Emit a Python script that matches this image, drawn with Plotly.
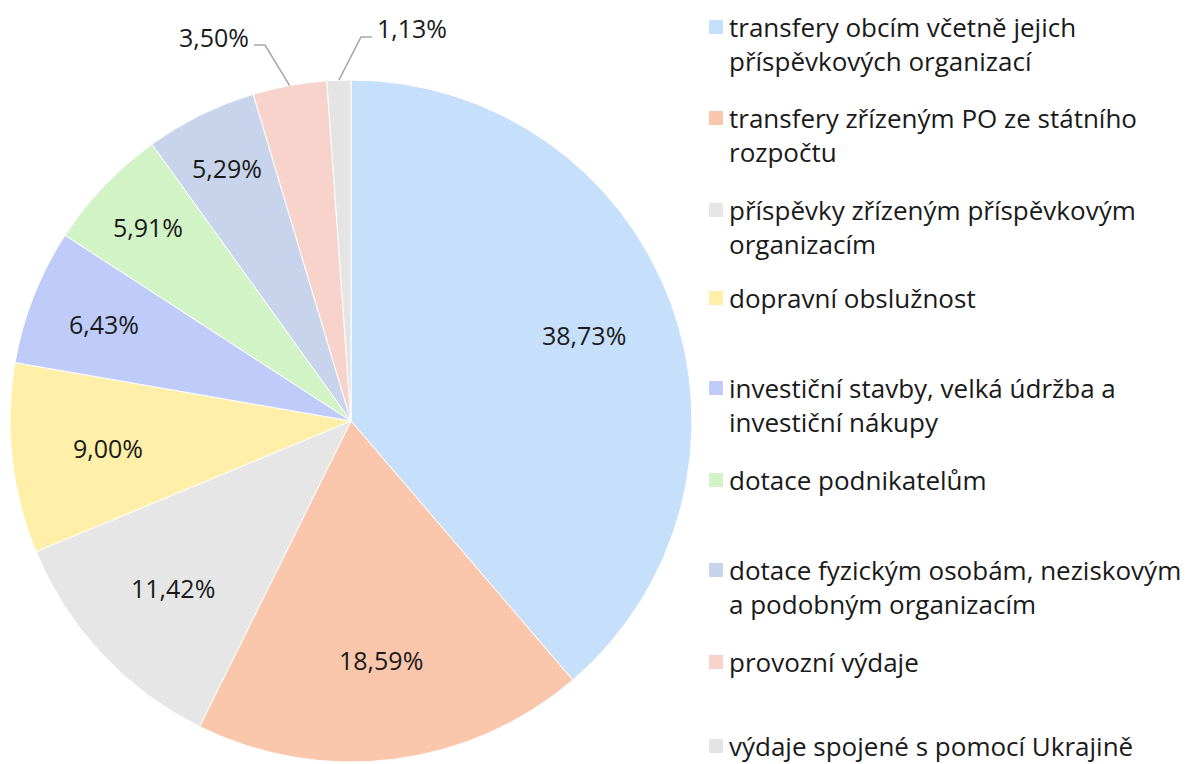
import math
import plotly.graph_objects as go

labels = [
    "transfery obcím včetně jejich<br>příspěvkových organizací",
    "transfery zřízeným PO ze státního<br>rozpočtu",
    "příspěvky zřízeným příspěvkovým<br>organizacím",
    "dopravní obslužnost",
    "investiční stavby, velká údržba a<br>investiční nákupy",
    "dotace podnikatelům",
    "dotace fyzickým osobám, neziskovým<br>a podobným organizacím",
    "provozní výdaje",
    "výdaje spojené s pomocí Ukrajině",
]
values = [38.73, 18.59, 11.42, 9.00, 6.43, 5.91, 5.29, 3.50, 1.13]
colors = ["#C6E0FB", "#FBC7AC", "#E6E6E6", "#FFEFA8", "#BFCCF9",
          "#D2F3C5", "#C8D4EB", "#F7D3CB", "#E4E4E4"]

W, H = 1196, 764
FONT = "Open Sans"
FS_LAB = 25
FS_LEG = 26
TXT = "#1a1a1a"

# pie geometry (pixels)
cx, cy, r = 351, 421, 341
# radial position (fraction of radius) of inside labels
label_rf = [0.727, 0.707, 0.716, 0.716, 0.777, 0.824, 0.827, None, None]

def px(x):
    return x / W

def py(y):
    return (H - y) / H

def fmt(v):
    return f"{v:.2f}%".replace(".", ",")

fig = go.Figure()
fig.add_trace(go.Pie(
    labels=labels, values=values, sort=False, direction="clockwise", rotation=0,
    marker=dict(colors=colors, line=dict(color="white", width=1)),
    textinfo="none",
    domain=dict(x=[(cx - r) / W, (cx + r) / W], y=[(H - cy - r) / H, (H - cy + r) / H]),
    showlegend=False, hoverinfo="label+value",
))

# slice mid-angles from data
total = sum(values)
cum = 0
mids = []
for v in values:
    mids.append((cum + v / 2) / total * 2 * math.pi)
    cum += v

# inside labels
for v, a, rf in zip(values, mids, label_rf):
    if rf is None:
        continue
    lx = cx + rf * r * math.sin(a)
    ly = cy - rf * r * math.cos(a)
    fig.add_annotation(x=px(lx), y=py(ly), xref="paper", yref="paper", showarrow=False,
                       xanchor="center", yanchor="middle", text=fmt(v),
                       font=dict(family=FONT, size=FS_LAB, color=TXT))

# outside labels with leader lines
out_cfg = {
    7: dict(label_xy=(251, 37), anchor="right", elbow=(265, 45), end=(254, 45)),
    8: dict(label_xy=(375, 28), anchor="left", elbow=(361, 37), end=(372, 37)),
}
for i, cfg in out_cfg.items():
    a = mids[i]
    rx = cx + r * math.sin(a)
    ry = cy - r * math.cos(a)
    ex, ey = cfg["elbow"]
    tx, ty = cfg["end"]
    path = f"M {px(rx)} {py(ry)} L {px(ex)} {py(ey)} L {px(tx)} {py(ty)}"
    fig.add_shape(type="path", path=path, xref="paper", yref="paper",
                  line=dict(color="#A6A6A6", width=1.5))
    fig.add_annotation(x=px(cfg["label_xy"][0]), y=py(cfg["label_xy"][1]),
                       xref="paper", yref="paper", showarrow=False,
                       xanchor=cfg["anchor"], yanchor="middle",
                       text=fmt(values[i]),
                       font=dict(family=FONT, size=FS_LAB, color=TXT))

# legend (manual, matching layout)
leg_y = [27, 118, 210, 298, 388, 480, 570, 662, 746]
sq = 14
for lab, col, y in zip(labels, colors, leg_y):
    fig.add_shape(type="rect", xref="paper", yref="paper",
                  x0=px(709), x1=px(709 + sq), y0=py(y + sq / 2), y1=py(y - sq / 2),
                  fillcolor=col, line=dict(width=0))
    fig.add_annotation(x=px(727), y=py(y - 3 - FS_LEG * 1.3 / 2), xref="paper", yref="paper",
                       showarrow=False, xanchor="left", yanchor="top", align="left",
                       text=lab, font=dict(family=FONT, size=FS_LEG, color=TXT))

fig.update_layout(
    width=W, height=H, margin=dict(l=0, r=0, t=0, b=0),
    paper_bgcolor="white", plot_bgcolor="white",
    separators=", ",
)
fig.write_html("out.html", config={"displayModeBar": False},
               post_script="document.body.style.margin='0';document.body.style.overflow='hidden';")
